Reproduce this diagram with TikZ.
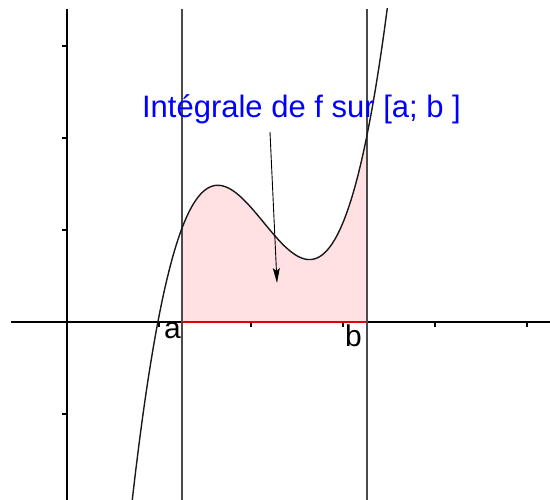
\documentclass[tikz,border=0pt]{standalone}
\usepackage{fontspec}
\setmainfont{Liberation Sans}
\usetikzlibrary{arrows.meta}
\definecolor{areaFill}{HTML}{FFE1E3}
\definecolor{areaEdge}{HTML}{E00000}
\definecolor{labelBlue}{HTML}{0000FF}
\definecolor{lineGrey}{HTML}{4A4A4A}

\begin{document}
\begin{tikzpicture}[
    x=92pt, y=92pt,
    declare function={f(\t)=1.632*\t^3-10.465*\t^2+21.153*\t-12.257;},
    axis/.style    = {draw=black, line width=1.4pt},
    tickmark/.style= {draw=black, line width=1.2pt},
    bound/.style   = {draw=lineGrey, line width=1.4pt},
    curve/.style   = {draw=black!90, line width=1.4pt},
    area/.style    = {fill=areaFill},
    edge/.style    = {draw=areaEdge, line width=1.4pt},
    title/.style   = {font=\fontsize{31}{36}\selectfont, text=labelBlue, inner sep=0pt},
    endlbl/.style  = {font=\fontsize{30}{34}\selectfont, inner sep=0pt},
    pointer/.style = {-{Stealth[length=15pt,width=7pt,inset=3pt]}, draw=black, line width=0.9pt},
  ]
  \useasboundingbox (-67pt,-178pt) rectangle (483pt,322pt);

  %% shaded area between a and b
  \fill[area] (1.25,0) -- plot[domain=1.25:3.26, samples=60] (\x,{f(\x)}) -- (3.26,0) -- cycle;

  %% axes
  \draw[axis] (-56pt,0) -- (483pt,0);
  \draw[axis] (0,313pt) -- (0,-178pt);
  \foreach \k in {1,...,5}
    \draw[tickmark] (\k,0) -- ++(0,-5pt);
  \foreach \k in {-1,1,2,3}
    \draw[tickmark] (0,\k) -- ++(-5pt,0);

  %% region border
  \draw[edge] (1.25,{f(1.25)}) -- (1.25,0) -- (3.26,0) -- (3.26,{f(3.26)});

  %% vertical lines x = a and x = b
  \draw[bound] (1.25,313pt) -- (1.25,-178pt);
  \draw[bound] (3.26,313pt) -- (3.26,-178pt);

  %% the curve
  \begin{scope}
    \clip (-67pt,-178pt) rectangle (483pt,313pt);
    \draw[curve] plot[domain=0.70:3.49, samples=120, smooth] (\x,{f(\x)});
  \end{scope}

  %% labels
  \node[endlbl, anchor=base] (lblA) at (105.5pt,-17pt) {a};
  \node[endlbl, anchor=base] (lblB) at (286.5pt,-25pt) {b};
  \node[title, anchor=base] (title) at (234.5pt,204pt) {Intégrale de f sur [a; b ]};

  %% pointer into the area
  \coordinate (tail) at (203pt,190pt);
  \coordinate (head) at (210pt,39pt);
  \draw[pointer] (tail) -- (head);

\end{tikzpicture}
\end{document}
